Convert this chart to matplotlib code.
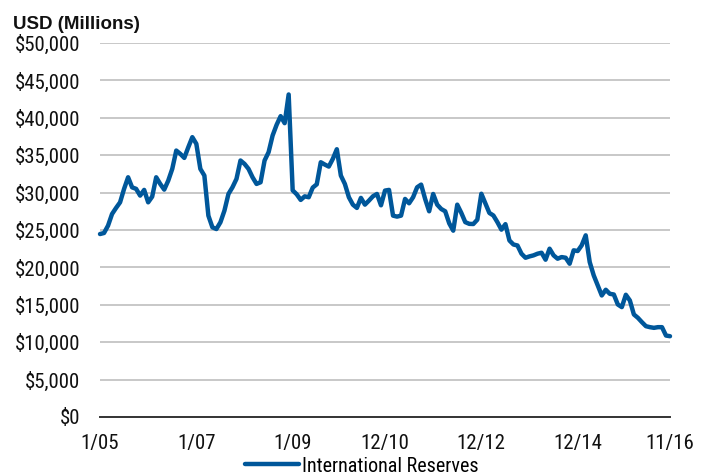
import matplotlib
matplotlib.use("Agg")
import matplotlib.pyplot as plt
from matplotlib import font_manager
from matplotlib.ticker import FuncFormatter, FixedLocator
import numpy as np

# Monthly international reserves, USD millions, Jan 2005 - Nov 2016
reserves = [
    24460, 24600, 25580, 27140, 27950, 28700, 30500, 32050, 30700, 30500,
    29600, 30360, 28700, 29460, 32050, 31160, 30400, 31600, 33170, 35620,
    35180, 34640, 36070, 37410, 36520, 33170, 32280, 26920, 25360, 25130,
    26030, 27590, 29820, 30710, 31830, 34290, 33840, 33170, 32050, 31160,
    31380, 34290, 35400, 37630, 39060, 40220, 39280, 43120, 30300, 29780,
    29020, 29500, 29380, 30670, 31110, 34060, 33750, 33480, 34510, 35800,
    32280, 31160, 29380, 28390, 27950, 29290, 28390, 28930, 29510, 29820,
    28300, 30270, 30360, 26920, 26790, 26920, 29150, 28570, 29380, 30710,
    31070, 29150, 27500, 29820, 28390, 27810, 27500, 25890, 24910, 28390,
    27300, 26050, 25820, 25800, 26380, 29850, 28550, 27280, 26940, 26050,
    25050, 25780, 23600, 23060, 22930, 21830, 21290, 21470, 21610, 21830,
    21960, 21030, 22500, 21610, 21160, 21380, 21290, 20490, 22280, 22190,
    22950, 24290, 20710, 18930, 17590, 16250, 17010, 16470, 16380, 15040,
    14690, 16340, 15580, 13710, 13260, 12680, 12140, 12010, 11920, 12010,
    12010, 10890, 10800,
]
tick_labels = ["1/05", "1/07", "1/09", "12/10", "12/12", "12/14", "11/16"]
tick_months = [0, 24, 48, 71, 95, 119, 142]
series_name = "International Reserves"


def first_installed(names):
    for n in names:
        try:
            font_manager.findfont(font_manager.FontProperties(family=n),
                                  fallback_to_default=False)
            return n
        except Exception:
            continue
    return "DejaVu Sans"


narrow_font = first_installed(["Liberation Sans Narrow", "Arial Narrow",
                               "Roboto Condensed", "Open Sans Condensed",
                               "DejaVu Sans Condensed", "Liberation Sans"])
narrow_is_condensed = narrow_font != "Liberation Sans"
plt.rcParams["font.family"] = [narrow_font, "DejaVu Sans"]
tick_size = 15 if narrow_is_condensed else 13.5

W, H = 707, 476
fig = plt.figure(figsize=(W / 100, H / 100), dpi=100)
ax = fig.add_axes([100 / W, 1 - 417 / H, 570 / W, 374 / H])

x = np.arange(len(reserves))
line, = ax.plot(x, reserves, color="#00579A", lw=3.2, solid_joinstyle="round",
                solid_capstyle="round", label=series_name, clip_on=False, zorder=3)

ax.set_xlim(0, len(reserves) - 1)
ax.set_ylim(0, 50000)
ax.yaxis.set_major_locator(FixedLocator(np.arange(0, 50001, 5000)))
ax.yaxis.set_major_formatter(FuncFormatter(lambda v, p: f"${v:,.0f}"))
ax.set_xticks(tick_months)
ax.set_xticklabels(tick_labels)

ax.grid(axis="y", color="#C4C4C4", lw=1.3)
ax.set_axisbelow(True)
for s in ["top", "right", "left"]:
    ax.spines[s].set_visible(False)
ax.spines["bottom"].set_color("#333333")
ax.spines["bottom"].set_linewidth(1.4)
ax.spines["bottom"].set_zorder(2)

ax.tick_params(axis="y", length=0, pad=14, labelsize=tick_size, labelcolor="#111111")
ax.tick_params(axis="x", length=0, pad=12, labelsize=tick_size, labelcolor="#111111")

fig.text(13 / W, 1 - 29 / H, "USD (Millions)", fontsize=13.5, fontweight="bold",
         family=["Liberation Sans", "DejaVu Sans"], va="baseline", ha="left", color="#111111")

fig.legend(handles=[line], loc="center", bbox_to_anchor=(362 / W, 1 - 466 / H),
           frameon=False, fontsize=tick_size - 0.5, handlelength=2.7, handletextpad=0.15,
           borderpad=0, borderaxespad=0)

fig.savefig("out.png", dpi=100)
